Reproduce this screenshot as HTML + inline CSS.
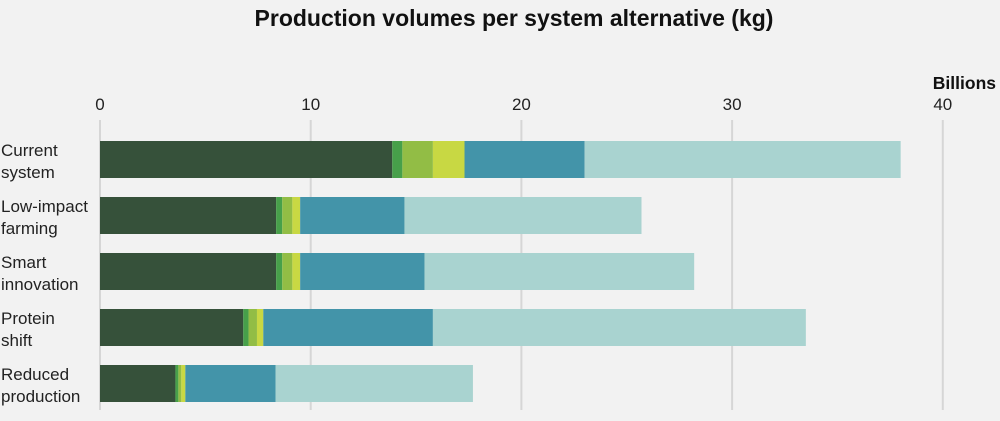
<!DOCTYPE html>
<html><head><meta charset="utf-8"><style>
body{margin:0;background:#f2f2f2;font-family:"Liberation Sans",sans-serif;}
svg{display:block}
</style></head><body>
<svg id="c" width="1000" height="421">
<text x="514" y="26" text-anchor="middle" font-size="23" font-weight="bold" fill="#111">Production volumes per system alternative (kg)</text>
<text x="996" y="89" text-anchor="end" font-size="17.5" font-weight="bold" fill="#111">Billions</text>
</svg>
<script>
const categories=[["Current","system"],["Low-impact","farming"],["Smart","innovation"],["Protein","shift"],["Reduced","production"]];
const s1=[13.87,8.36,8.36,6.8,3.58];
const s2=[0.48,0.29,0.29,0.25,0.14];
const s3=[1.45,0.48,0.48,0.4,0.14];
const s4=[1.5,0.37,0.37,0.3,0.19];
const s5=[5.7,4.95,5.9,8.05,4.28];
const s6=[15.0,11.25,12.8,17.7,9.37];
const ticks=[0,10,20,30,40];
const series=[s1,s2,s3,s4,s5,s6];
const colors=["#36513a","#47a04a","#92bd45","#c8d843","#4394a9","#a9d3d0"];
const svg=document.getElementById('c');const NS="http://www.w3.org/2000/svg";
const x=v=>100+v*21.07;
const y=i=>141+i*56;
function mk(t,a){const e=document.createElementNS(NS,t);for(const k in a)e.setAttribute(k,a[k]);svg.appendChild(e);return e;}
ticks.forEach(t=>{
 const l=mk('line',{x1:x(t),x2:x(t),y1:120,y2:410,stroke:'#d6d6d6','stroke-width':2});
 
 
 const tx=mk('text',{x:x(t),y:110,'text-anchor':'middle','font-size':17,fill:'#222'});tx.textContent=t;
 
 
});
categories.forEach((c,i)=>{
 let acc=0;
 series.forEach((s,j)=>{
  const r=mk('rect',{x:x(acc),y:y(i),width:x(acc+s[i])-x(acc),height:37,fill:colors[j]});
  
  
  acc+=s[i];
 });
 c.forEach((ln,k)=>{
  const t=mk('text',{x:1,y:y(i)+15+k*22,'font-size':17,fill:'#222'});t.textContent=ln;
  
  
 });
});
</script>
</body></html>
